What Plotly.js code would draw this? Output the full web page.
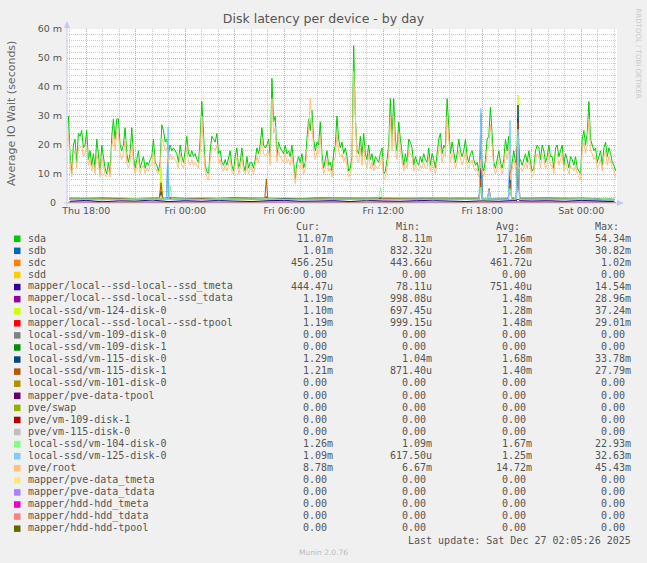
<!DOCTYPE html>
<html>
<head>
<meta charset="utf-8">
<script src="https://cdn.plot.ly/plotly-3.0.1.min.js"></script>
<style>
  html, body { margin: 0; padding: 0; background: #f0f0f0; }
  #chart { width: 647px; height: 563px; }
</style>
</head>
<body>
<div id="chart"></div>
<script>
// Munin "diskstats latency" day graph, values in milliseconds (m)

// main series are sampled every ~6 minutes from Thu 16:55
const sampleStart = '2025-12-25 16:55';
const sampleStepSec = 364;

const sdaValues = [
  30,17,10,20,22,14,24,23,25,19, 20,25,15,18,13,17,12,22,17,10,
  20,15,12,10,14,10,23,29,22,29, 29,20,18,20,26,17,14,17,26,16,
  12,15,18,12,14,16,12,14,13,15, 16,22,14,13,11,14,27,25,21,22,
  17,20,18,19,18,17,14,20,16,14, 18,23,17,16,18,16,17,15,14,22,
  35,22,13,11,10,18,23,22,21,24, 17,18,14,13,15,13,16,18,13,11,
  16,19,12,14,19,13,11,16,12,14, 14,12,15,19,17,20,26,20,19,20,
  22,16,43,28,30,16,21,19,18,17, 20,17,18,16,20,13,8.1,14,16,14,
  17,12,14,22,29,25,32,22,18,21, 20,
  28,17,12,15,18,13,14,11,17,20, 30,22,19,21,17,19,16,11,12,16,
  54.3,30,18,17,23,16,24,17,15,20, 15,17,13,16,15,14,17,19,10,11,
  15,20,36,22,36,22,18,28,22,18, 13,17,14,22,21,19,13,16,14,13,
  16,14,17,15,14,19,13,17,15,12, 17,22,24,17,20,19,36,25,17,21,
  18,14,17,22,18,16,18,22,16,14, 17,18,15,13,14,11,18,13,11,15,
  22,23,33,22,14,12,15,18,14,12, 15,22,18,23,10,15,18,14,16,14,
  15,13,15,17,14,18,14,11,12,18, 20,19,15,20,18,14,16,20,16,16,
  12,19,20,16,18,20,13,17,15,12, 16,15,13,16,12,11,10,22,25,20,
  24,35,22,20,18,19,14,16,18,13, 19,21,16,19,17,14,13,11.07
];

const pveRootValues = [
  24,14,9,16,18,12,19,19,20,16, 17,20,13,15,11,14,10,17,14,9,
  16,13,10,9,12,9,19,24,18,25, 24,17,15,17,22,14,12,14,21,14,
  10,13,15,10,12,13,10,12,11,13, 13,18,12,11,10,12,22,21,18,19,
  14,17,15,16,15,14,12,17,13,12, 15,19,14,13,15,13,14,13,12,18,
  30,19,11,9,8,15,19,19,18,20, 14,15,12,11,13,11,13,15,11,10,
  13,16,10,12,16,11,10,13,10,12, 12,10,13,16,14,17,22,17,16,17,
  18,13,36,24,26,14,18,16,15,14, 17,14,15,13,17,11,6.7,12,13,12,
  14,10,12,18,25,36,27,19,15,18, 17,
  23,14,10,12,15,11,12,9,14,16, 24,18,16,17,14,16,13,9,10,13,
  45.4,26,15,14,19,13,20,14,12,17, 12,14,11,13,12,12,14,16,8,9,
  12,16,30,18,30,18,15,24,18,15, 11,14,12,18,17,16,11,13,12,11,
  13,12,14,12,12,16,11,14,12,10, 14,18,20,14,17,16,30,21,14,17,
  15,12,14,18,15,13,15,18,13,12, 14,15,12,11,12,9,15,11,9,12,
  18,19,27,18,12,10,12,15,12,10, 12,18,15,19,8,12,15,12,13,12,
  12,11,12,14,12,15,12,9,10,15, 17,16,12,17,15,12,13,17,13,13,
  10,16,17,13,15,17,11,14,12,10, 13,12,11,13,10,9,8,18,21,17,
  20,29,18,17,15,16,12,13,15,11, 16,18,13,16,14,12,11,8.78
];

// small devices: hourly readings from Thu 17:00 to Sat 02:00
const hourlyStart = '2025-12-25 17:00';
const sdbValues = [1.2,1.3,1.1,1.4,1.2,1.3,1.5,1.1,1.2,1.3,1.2,1.4,1.1,1.2,1.3,1.2,1.1,1.3,1.4,1.2,1.2,1.3,1.1,1.2,1.5,1.3,1.2,1.1,1.2,1.3,1.2,1.1,1.2,1.01];
const sdcValues = [0.46,0.45,0.47,0.46,0.45,0.46,0.47,0.46,0.45,0.46,0.46,0.47,0.45,0.46,0.46,0.45,0.47,0.46,0.46,0.45,0.46,0.47,0.46,0.45,0.46,0.46,0.47,0.45,0.46,0.46,0.45,0.46,0.47,0.46];
const tmetaValues = [0.6,0.9,0.4,0.8,0.7,1.0,0.5,0.8,0.6,0.9,0.7,0.5,0.8,0.9,0.6,0.7,0.8,0.5,0.9,0.7,0.6,0.8,0.9,0.7,0.5,0.8,0.6,0.9,0.7,0.8,0.6,0.9,0.7,0.44];
const tdataValues = [1.4,1.5,1.6,1.4,1.5,1.3,1.6,1.5,1.4,1.5,1.6,1.4,1.5,1.3,1.5,1.6,1.4,1.5,1.5,1.4,1.6,1.5,1.4,1.5,1.3,1.5,1.6,1.4,1.5,1.4,1.6,1.5,1.3,1.19];
const vm124Values = [1.2,1.3,1.4,1.2,1.1,1.3,1.2,1.4,1.3,1.2,1.3,1.1,1.2,1.4,1.3,1.2,1.3,1.2,1.1,1.3,1.4,1.2,1.3,1.2,1.3,1.1,1.2,1.4,1.3,1.2,1.3,1.2,1.3,1.10];
const tpoolValues = [1.4,1.5,1.6,1.5,1.5,1.3,1.6,1.5,1.4,1.5,1.6,1.4,1.5,1.4,1.5,1.6,1.4,1.5,1.5,1.4,1.6,1.5,1.4,1.5,1.4,1.5,1.6,1.4,1.5,1.4,1.6,1.5,1.3,1.19];
const vm1150Values = [1.7,1.6,1.8,1.7,1.5,1.7,1.8,1.6,1.7,1.6,1.8,1.7,1.6,1.7,1.5,1.8,1.7,1.6,1.7,1.8,1.6,1.7,1.7,1.6,1.8,1.7,1.5,1.6,1.7,1.8,1.6,1.7,1.5,1.29];
const vm1151Values = [1.4,1.3,1.5,1.4,1.3,1.4,1.5,1.3,1.4,1.4,1.3,1.5,1.4,1.3,1.4,1.5,1.4,1.3,1.4,1.4,1.5,1.3,1.4,1.4,1.3,1.5,1.4,1.3,1.4,1.5,1.4,1.3,1.4,1.21];
const vm104Values = [1.7,1.6,1.7,1.8,1.6,1.7,1.6,1.7,1.8,1.6,1.7,1.7,1.6,1.8,1.7,1.6,1.7,1.7,1.6,1.8,1.7,1.6,1.7,1.7,1.8,1.6,1.7,1.6,1.7,1.8,1.7,1.6,1.7,1.26];
const vm125Values = [1.2,1.3,1.2,1.1,1.3,1.2,1.4,1.2,1.3,1.2,1.1,1.3,1.2,1.3,1.2,1.1,1.3,1.2,1.3,1.2,1.2,1.3,1.1,1.2,1.3,1.2,1.4,1.2,1.3,1.2,1.1,1.2,1.3,1.09];

// short spikes (time, value) with the readings either side
const sdbSpikes = [
  ['2025-12-25 22:52', 1.3], ['2025-12-25 22:58', 20.0], ['2025-12-25 23:04', 1.2],
  ['2025-12-26 17:49', 1.2], ['2025-12-26 17:55', 30.82], ['2025-12-26 18:01', 1.3]
];
const tmetaSpikes = [
  ['2025-12-26 20:04', 0.7], ['2025-12-26 20:10', 14.54], ['2025-12-26 20:16', 0.8]
];
const tdataSpikes = [
  ['2025-12-26 04:49', 1.5], ['2025-12-26 04:55', 2.1], ['2025-12-26 05:01', 1.4],
  ['2025-12-26 17:49', 1.5], ['2025-12-26 17:55', 11.9], ['2025-12-26 18:01', 1.4],
  ['2025-12-26 19:35', 1.5], ['2025-12-26 19:41', 11.3], ['2025-12-26 19:47', 1.6],
  ['2025-12-26 20:04', 1.4], ['2025-12-26 20:10', 28.96], ['2025-12-26 20:16', 1.5]
];
const vm124Spikes = [
  ['2025-12-25 22:26', 1.3], ['2025-12-25 22:32', 12.5], ['2025-12-25 22:38', 1.2],
  ['2025-12-26 20:04', 1.3], ['2025-12-26 20:10', 37.24], ['2025-12-26 20:16', 1.2]
];
const tpoolSpikes = [
  ['2025-12-26 04:49', 1.5], ['2025-12-26 04:55', 2.2], ['2025-12-26 05:01', 1.4],
  ['2025-12-26 17:49', 1.5], ['2025-12-26 17:55', 12.0], ['2025-12-26 18:01', 1.4],
  ['2025-12-26 19:35', 1.5], ['2025-12-26 19:41', 11.4], ['2025-12-26 19:47', 1.6],
  ['2025-12-26 20:04', 1.4], ['2025-12-26 20:10', 29.01], ['2025-12-26 20:16', 1.5]
];
const vm1150Spikes = [
  ['2025-12-25 22:26', 1.7], ['2025-12-25 22:32', 4.0], ['2025-12-25 22:38', 1.6],
  ['2025-12-26 17:49', 1.7], ['2025-12-26 17:55', 11.0], ['2025-12-26 18:01', 1.6],
  ['2025-12-26 19:35', 1.7], ['2025-12-26 19:41', 9.0], ['2025-12-26 19:47', 1.8],
  ['2025-12-26 20:04', 1.6], ['2025-12-26 20:10', 33.78], ['2025-12-26 20:16', 1.7]
];
const vm1151Spikes = [
  ['2025-12-25 22:26', 1.4], ['2025-12-25 22:32', 7.0], ['2025-12-25 22:38', 1.3],
  ['2025-12-26 04:49', 1.4], ['2025-12-26 04:55', 8.3], ['2025-12-26 05:01', 1.5],
  ['2025-12-26 17:49', 1.4], ['2025-12-26 17:55', 8.5], ['2025-12-26 18:01', 1.3],
  ['2025-12-26 18:19', 1.4], ['2025-12-26 18:25', 5.0], ['2025-12-26 18:31', 1.4],
  ['2025-12-26 19:35', 1.3], ['2025-12-26 19:41', 7.0], ['2025-12-26 19:47', 1.4],
  ['2025-12-26 20:04', 1.4], ['2025-12-26 20:10', 27.79], ['2025-12-26 20:16', 1.3]
];
const vm104Spikes = [
  ['2025-12-25 22:59', 1.7], ['2025-12-25 23:05', 6.0], ['2025-12-25 23:11', 1.6],
  ['2025-12-26 11:44', 1.7], ['2025-12-26 11:50', 5.6], ['2025-12-26 11:56', 1.6],
  ['2025-12-26 17:49', 1.7], ['2025-12-26 17:55', 5.5], ['2025-12-26 18:01', 1.6],
  ['2025-12-26 19:35', 1.7], ['2025-12-26 19:41', 5.0], ['2025-12-26 19:47', 1.8],
  ['2025-12-26 20:04', 1.6], ['2025-12-26 20:10', 22.93], ['2025-12-26 20:16', 1.7]
];
const vm125Spikes = [
  ['2025-12-25 22:52', 1.2], ['2025-12-25 22:58', 26.3], ['2025-12-25 23:04', 1.3],
  ['2025-12-26 17:49', 1.2], ['2025-12-26 17:55', 32.63], ['2025-12-26 18:01', 1.3],
  ['2025-12-26 18:19', 1.2], ['2025-12-26 18:25', 4.5], ['2025-12-26 18:31', 1.3],
  ['2025-12-26 19:35', 1.2], ['2025-12-26 19:41', 28.5], ['2025-12-26 19:47', 1.1],
  ['2025-12-26 20:04', 1.3], ['2025-12-26 20:10', 25.5], ['2025-12-26 20:16', 1.2]
];

// devices that stayed at 0.00 the whole period
const idleTimes = ['2025-12-25 16:55', '2025-12-27 02:05'];
const idleValues = [0, 0];

// legend table
const seriesNames = [
  'sda', 'sdb', 'sdc', 'sdd',
  'mapper/local--ssd-local--ssd_tmeta', 'mapper/local--ssd-local--ssd_tdata',
  'local-ssd/vm-124-disk-0', 'mapper/local--ssd-local--ssd-tpool',
  'local-ssd/vm-109-disk-0', 'local-ssd/vm-109-disk-1',
  'local-ssd/vm-115-disk-0', 'local-ssd/vm-115-disk-1', 'local-ssd/vm-101-disk-0',
  'mapper/pve-data-tpool', 'pve/swap', 'pve/vm-109-disk-1', 'pve/vm-115-disk-0',
  'local-ssd/vm-104-disk-0', 'local-ssd/vm-125-disk-0', 'pve/root',
  'mapper/pve-data_tmeta', 'mapper/pve-data_tdata',
  'mapper/hdd-hdd_tmeta', 'mapper/hdd-hdd_tdata', 'mapper/hdd-hdd-tpool'
];
const seriesColors = [
  '#00CC00', '#0066B3', '#FF8000', '#FFCC00', '#330099', '#990099', '#CCFF00',
  '#FF0000', '#808080', '#008F00', '#00487D', '#B35A00', '#B38F00', '#6B006B',
  '#8FB300', '#B30000', '#BEBEBE', '#80FF80', '#80C9FF', '#FFC080', '#FFE680',
  '#AA80FF', '#EE00CC', '#FF8080', '#666600'
];
const curText = ['11.07m','1.01m','456.25u','0.00','444.47u','1.19m','1.10m','1.19m','0.00','0.00','1.29m','1.21m','0.00','0.00','0.00','0.00','0.00','1.26m','1.09m','8.78m','0.00','0.00','0.00','0.00','0.00'];
const minText = ['8.11m','832.32u','443.66u','0.00','78.11u','998.08u','697.45u','999.15u','0.00','0.00','1.04m','871.40u','0.00','0.00','0.00','0.00','0.00','1.09m','617.50u','6.67m','0.00','0.00','0.00','0.00','0.00'];
const avgText = ['17.16m','1.26m','461.72u','0.00','751.40u','1.48m','1.28m','1.48m','0.00','0.00','1.68m','1.40m','0.00','0.00','0.00','0.00','0.00','1.67m','1.25m','14.72m','0.00','0.00','0.00','0.00','0.00'];
const maxText = ['54.34m','30.82m','1.02m','0.00','14.54m','28.96m','37.24m','29.01m','0.00','0.00','33.78m','27.79m','0.00','0.00','0.00','0.00','0.00','22.93m','32.63m','45.43m','0.00','0.00','0.00','0.00','0.00'];
const columnHeads = ['Cur:', 'Min:', 'Avg:', 'Max:'];

// axes
const xTickVals = ['2025-12-25 18:00','2025-12-25 21:00','2025-12-26 00:00','2025-12-26 03:00',
  '2025-12-26 06:00','2025-12-26 09:00','2025-12-26 12:00','2025-12-26 15:00',
  '2025-12-26 18:00','2025-12-26 21:00','2025-12-27 00:00'];
const xTickText = ['Thu 18:00','','Fri 00:00','','Fri 06:00','','Fri 12:00','','Fri 18:00','','Sat 00:00'];
const yTickVals = [0, 10, 20, 30, 40, 50, 60];
const yTickText = ['0\u00A0\u00A0', '10 m', '20 m', '30 m', '40 m', '50 m', '60 m'];

function toMs(s) { return Date.parse(s.replace(' ', 'T') + 'Z'); }
function fmt(ms) { return new Date(ms).toISOString().slice(0, 19).replace('T', ' '); }

function sampledSeries(values) {
    const t0 = toMs(sampleStart);
    return { x: values.map((v, i) => fmt(t0 + i * sampleStepSec * 1000)), y: values };
}

function hourlySeries(values, spikes) {
    const t0 = toMs(hourlyStart);
    const pts = values.map((v, i) => [t0 + i * 3600000, v]);
    spikes.forEach(p => pts.push([toMs(p[0]), p[1]]));
    pts.sort((a, b) => a[0] - b[0]);
    return { x: pts.map(p => fmt(p[0])), y: pts.map(p => p[1]) };
}

const seriesPoints = {
    0: sampledSeries(sdaValues),
    1: hourlySeries(sdbValues, sdbSpikes),
    2: hourlySeries(sdcValues, []),
    4: hourlySeries(tmetaValues, tmetaSpikes),
    5: hourlySeries(tdataValues, tdataSpikes),
    6: hourlySeries(vm124Values, vm124Spikes),
    7: hourlySeries(tpoolValues, tpoolSpikes),
    10: hourlySeries(vm1150Values, vm1150Spikes),
    11: hourlySeries(vm1151Values, vm1151Spikes),
    17: hourlySeries(vm104Values, vm104Spikes),
    18: hourlySeries(vm125Values, vm125Spikes),
    19: sampledSeries(pveRootValues)
};

const data = seriesNames.map((name, i) => {
    const pts = seriesPoints[i] || { x: idleTimes, y: idleValues };
    return {
        type: 'scatter',
        mode: 'lines',
        name: name,
        x: pts.x,
        y: pts.y,
        line: { color: seriesColors[i], width: 1 },
        hoverinfo: 'skip'
    };
});

// pixel helpers for the area around the plot (plot box is 67..617 x 29..203)
const PL = 67, PR = 617, PT = 29, PB = 203;
const px = x => (x - PL) / (PR - PL);
const py = y => (PB - y) / (PB - PT);

const monoFont = { family: 'DejaVu Sans Mono', size: 10, color: '#555555' };
const rowTop = 238, rowStep = 12.08;
const valueRight = [334.5, 434, 533.5, 633];
const headRight = [322, 422, 521.5, 621];

const annotations = [];
const shapes = [];

function note(text, x, y, xanchor, font, extra) {
    annotations.push(Object.assign({
        text: text, x: px(x), y: py(y), xref: 'paper', yref: 'paper',
        xanchor: xanchor, yanchor: 'middle', showarrow: false, font: font
    }, extra || {}));
}

columnHeads.forEach((h, c) => note(h, headRight[c], rowTop - 11.5, 'right', monoFont));

seriesNames.forEach((name, i) => {
    const y = rowTop + i * rowStep;
    shapes.push({
        type: 'rect', xref: 'paper', yref: 'paper',
        x0: px(14), x1: px(20.5), y0: py(y - 2.5), y1: py(y + 4),
        fillcolor: seriesColors[i], line: { width: 0 }
    });
    note(name, 26, y, 'left', monoFont);
    [curText, minText, avgText, maxText].forEach((col, c) => {
        let t = col[i];
        if (!/[mu]$/.test(t)) t = t + '\u00A0';
        note(t, valueRight[c], y, 'right', monoFont);
    });
});

note('Last update: Sat Dec 27 02:05:26 2025', 633, 540, 'right', monoFont);
note('Munin 2.0.76', 323.5, 552, 'center', { family: 'DejaVu Sans', size: 7.5, color: '#bbbbbb' });
note('Average IO Wait (seconds)', 11, 114, 'center',
     { family: 'DejaVu Sans', size: 11, color: '#666666' }, { textangle: -90 });
note('RRDTOOL / TOBI OETIKER', 637.5, 53, 'center',
     { family: 'DejaVu Sans', size: 7, color: '#c8c8c8' }, { textangle: 90 });

// axis lines with arrow heads
const axisColor = '#c4c8f0';
shapes.push(
    { type: 'line', xref: 'paper', yref: 'paper', x0: px(PL), x1: px(PL), y0: py(PB + 3), y1: py(24),
      line: { color: axisColor, width: 1 }, layer: 'above' },
    { type: 'line', xref: 'paper', yref: 'paper', x0: px(PL - 3), x1: px(620), y0: py(PB), y1: py(PB),
      line: { color: axisColor, width: 1 }, layer: 'above' },
    { type: 'path', xref: 'paper', yref: 'paper',
      path: `M ${px(PL)} ${py(21)} L ${px(PL - 3)} ${py(28)} L ${px(PL + 3)} ${py(28)} Z`,
      fillcolor: axisColor, line: { width: 0 }, layer: 'above' },
    { type: 'path', xref: 'paper', yref: 'paper',
      path: `M ${px(624)} ${py(PB)} L ${px(617)} ${py(PB - 3)} L ${px(617)} ${py(PB + 3)} Z`,
      fillcolor: axisColor, line: { width: 0 }, layer: 'above' }
);

const tickFont = { family: 'DejaVu Sans', size: 9.5, color: '#555555' };
const majorGrid = '#e6a3a3';
const minorGrid = '#cdcdcd';

const layout = {
    width: 647,
    height: 563,
    margin: { l: PL, r: 647 - PR, t: PT, b: 563 - PB, pad: 0 },
    paper_bgcolor: '#f0f0f0',
    plot_bgcolor: '#ffffff',
    showlegend: false,
    title: {
        text: 'Disk latency per device - by day',
        font: { family: 'DejaVu Sans', size: 12.5, color: '#555555' },
        xref: 'container', x: 0.5, xanchor: 'center',
        yref: 'container', y: 1 - 19 / 563, yanchor: 'middle'
    },
    xaxis: {
        type: 'date',
        range: ['2025-12-25 16:50', '2025-12-27 02:10'],
        tickmode: 'array',
        tickvals: xTickVals,
        ticktext: xTickText,
        tickfont: tickFont,
        ticks: '',
        showgrid: true,
        gridcolor: majorGrid,
        griddash: '1px,1px',
        gridwidth: 1,
        minor: {
            tick0: '2025-12-25 00:00',
            dtick: 3600000,
            showgrid: true,
            gridcolor: minorGrid,
            griddash: '1px,1px',
            gridwidth: 1
        },
        showline: false,
        zeroline: false,
        fixedrange: true
    },
    yaxis: {
        range: [0, 60],
        tickmode: 'array',
        tickvals: yTickVals,
        ticktext: yTickText,
        tickfont: tickFont,
        ticks: '',
        ticklabelstandoff: 4,
        showgrid: true,
        gridcolor: majorGrid,
        griddash: '1px,1px',
        gridwidth: 1,
        minor: {
            tick0: 0,
            dtick: 2,
            showgrid: true,
            gridcolor: minorGrid,
            griddash: '1px,1px',
            gridwidth: 1
        },
        showline: false,
        zeroline: false,
        fixedrange: true
    },
    annotations: annotations,
    shapes: shapes
};

Plotly.newPlot('chart', data, layout, { displayModeBar: false, staticPlot: true });
</script>
</body>
</html>
